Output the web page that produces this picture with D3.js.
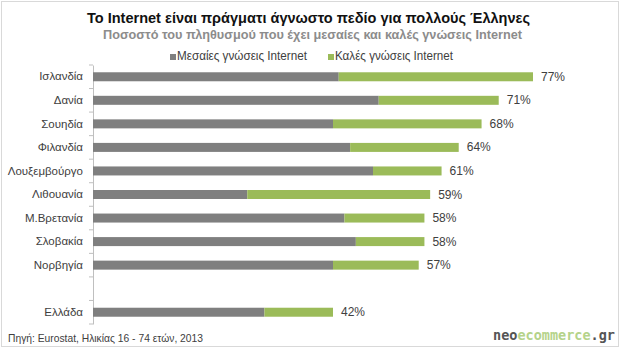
<!DOCTYPE html>
<html><head><meta charset="utf-8">
<script src="https://cdn.jsdelivr.net/npm/d3@7"></script>
<style>body{margin:0;background:#fff;}svg{display:block;font-family:"Liberation Sans",Arial,sans-serif;}</style>
</head><body>
<svg id="c" width="620" height="350"></svg>
<script>
const categories = ["Ισλανδία","Δανία","Σουηδία","Φιλανδία","Λουξεμβούργο","Λιθουανία","Μ.Βρετανία","Σλοβακία","Νορβηγία","","Ελλάδα"];
const medium = [43,50,42,45,49,27,44,46,42,null,30];
const good =   [34,21,26,19,12,32,14,12,15,null,12];
const totalLabels = ["77%","71%","68%","64%","61%","59%","58%","58%","57%","","42%"];
const seriesNames = ["Μεσαίες γνώσεις Internet","Καλές γνώσεις Internet"];
const colors = ["#7f7f7f","#9bbb59"];

const svg = d3.select("#c");
svg.append("rect").attr("x",1.5).attr("y",1.5).attr("width",617).attr("height",345)
  .attr("fill","none").attr("stroke","#d9d9d9");

svg.append("text").attr("x",308.5).attr("y",23).attr("text-anchor","middle")
  .attr("font-size",15).attr("font-weight","bold").attr("fill","#111")
  .attr("textLength",443).attr("lengthAdjust","spacingAndGlyphs")
  .text("Το Internet είναι πράγματι άγνωστο πεδίο για πολλούς Έλληνες");
svg.append("text").attr("x",312.5).attr("y",38.5).attr("text-anchor","middle")
  .attr("font-size",12).attr("font-weight","bold").attr("fill","#8c8c8c")
  .attr("textLength",419).attr("lengthAdjust","spacingAndGlyphs")
  .text("Ποσοστό του πληθυσμού που έχει μεσαίες και καλές γνώσεις Internet");

const lx = [170, 328];
const lw = [130, 118];
seriesNames.forEach((n,i)=>{
  svg.append("rect").attr("x",lx[i]).attr("y",54).attr("width",6).attr("height",6).attr("fill",colors[i]);
  svg.append("text").attr("x",lx[i]+7).attr("y",60).attr("font-size",12).attr("fill","#404040")
    .attr("textLength",lw[i]).attr("lengthAdjust","spacingAndGlyphs").text(n);
});

const x = d3.scaleLinear().domain([0,77]).range([93,533]);
const y = d3.scaleBand().domain(d3.range(categories.length)).range([65,324]).paddingInner(0).paddingOuter(0);
const bh = 9;

const yAxis = d3.axisLeft(y).tickFormat(i=>categories[i]).tickSize(0).tickPadding(10);
const ag = svg.append("g").attr("transform","translate(93,0)").call(yAxis);
ag.select(".domain").attr("stroke","#bfbfbf");
ag.selectAll("text").attr("font-size",11.5).attr("fill","#404040").attr("font-family","Liberation Sans, Arial, sans-serif");
const bounds = d3.range(categories.length+1).map(i=>65 + i*y.step());
svg.append("g").selectAll("line").data(bounds).join("line")
  .attr("x1",89).attr("x2",93).attr("y1",d=>d).attr("y2",d=>d).attr("stroke","#bfbfbf");

const rows = d3.range(categories.length).filter(i=>medium[i]!=null);
svg.append("g").selectAll("rect").data(rows).join("rect")
  .attr("x",x(0)).attr("y",i=>y(i)+y.bandwidth()/2-bh/2).attr("width",i=>x(medium[i])-x(0)).attr("height",bh)
  .attr("fill",colors[0]);
svg.append("g").selectAll("rect").data(rows).join("rect")
  .attr("x",i=>x(medium[i])).attr("y",i=>y(i)+y.bandwidth()/2-bh/2).attr("width",i=>x(medium[i]+good[i])-x(medium[i])).attr("height",bh)
  .attr("fill",colors[1]);
svg.append("g").selectAll("text").data(rows).join("text")
  .attr("x",i=>x(medium[i]+good[i])+8).attr("y",i=>y(i)+y.bandwidth()/2+4)
  .attr("font-size",12).attr("fill","#404040").text(i=>totalLabels[i]);

svg.append("text").attr("x",8).attr("y",342).attr("font-size",10.5).attr("fill","#404040")
  .attr("textLength",195).attr("lengthAdjust","spacingAndGlyphs")
  .text("Πηγή: Eurostat, Ηλικίας 16 - 74 ετών, 2013");

const logo = svg.append("text").attr("x",615).attr("y",340).attr("text-anchor","end")
  .attr("font-size",13.5).attr("font-weight","bold").attr("font-family","DejaVu Sans Mono, monospace");
logo.append("tspan").attr("fill","#555").text("neo");
logo.append("tspan").attr("fill","#b5d38a").text("ecommerce");
logo.append("tspan").attr("fill","#555").text(".gr");
</script>
</body></html>
